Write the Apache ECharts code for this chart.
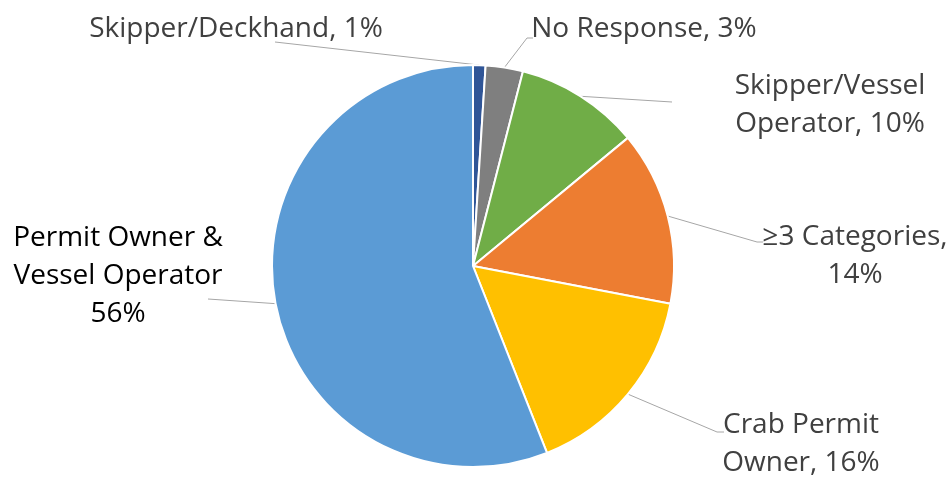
<!DOCTYPE html>
<html>
<head>
<meta charset="utf-8">
<script src="https://cdn.jsdelivr.net/npm/echarts@6/dist/echarts.min.js"></script>
<style>
html,body{margin:0;padding:0;background:#fff;}
#chart{width:951px;height:477px;}
</style>
</head>
<body>
<div id="chart"></div>
<script>
// ---- data ----
const categories = ['Skipper/Deckhand', 'No Response', 'Skipper/Vessel\nOperator', '≥3 Categories', 'Crab Permit\nOwner', 'Permit Owner &\nVessel Operator'];
const values = [1, 3, 10, 14, 16, 56];
const separators = [', ', ', ', ', ', ',\n', ', ', '\n'];
const colors = ['#2F5597', '#7F7F7F', '#70AD47', '#ED7D31', '#FFC000', '#5B9BD5'];

// ---- label layout (style, not data) ----
const labelPos = [
  {x: 236, y: 29, line: [[275, 42]]},
  {x: 644, y: 29, line: [[527, 38], [533, 38]]},
  {x: 830, y: 105, line: [[672, 102]]},
  {x: 855, y: 256, line: [[757, 242], [763, 242]]},
  {x: 801, y: 444, line: [[717, 432], [724, 432]]},
  {x: 118, y: 276, line: [[208, 299]]}
];

const chart = echarts.init(document.getElementById('chart'), null, {renderer: 'canvas'});
const data = categories.map((c, i) => ({
  name: c,
  value: values[i],
  itemStyle: {color: colors[i]},
  label: {color: i === 5 ? '#000000' : '#404040'}
}));

chart.setOption({
  animation: false,
  series: [{
    type: 'pie',
    center: [473, 266],
    radius: 201,
    startAngle: 90,
    clockwise: true,
    avoidLabelOverlap: false,
    itemStyle: {borderColor: '#ffffff', borderWidth: 2},
    label: {
      show: true,
      position: 'outside',
      fontFamily: 'Open Sans',
      fontSize: 28,
      lineHeight: 38,
      align: 'center',
      formatter: p => p.name + separators[p.dataIndex] + Math.round(p.percent) + '%'
    },
    labelLine: {show: true, length: 10, length2: 10, lineStyle: {color: '#A6A6A6', width: 1}},
    labelLayout: function (params) {
      const lp = labelPos[params.dataIndex];
      const start = params.labelLinePoints ? params.labelLinePoints[0] : null;
      const out = {x: lp.x, y: lp.y, align: 'center', verticalAlign: 'middle'};
      if (start) out.labelLinePoints = [start].concat(lp.line);
      return out;
    },
    data: data
  }]
});
</script>
</body>
</html>
